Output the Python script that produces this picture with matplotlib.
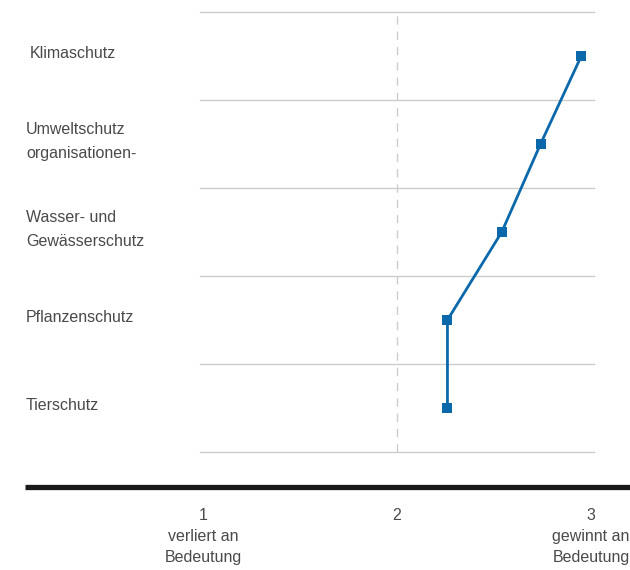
import matplotlib.pyplot as plt

plt.rcParams["font.family"] = ["Liberation Sans", "DejaVu Sans"]

# ── Data ──────────────────────────────────────────────────────────────────────
categories = ["Klimaschutz", "Umweltschutz\norganisationen-", "Wasser- und\nGewässerschutz",
              "Pflanzenschutz", "Tierschutz"]
values = [2.95, 2.74, 2.54, 2.26, 2.26]
tick_values = [1, 2, 3]
tick_labels = ["1\nverliert an\nBedeutung", "2", "3\ngewinnt an\nBedeutung"]

C_LINE = "#0a68ab"
C_GRID = "#cccccc"
C_TEXT = "#4a4a4a"

# ── Figure ────────────────────────────────────────────────────────────────────
fig = plt.figure(figsize=(6.3, 5.7), dpi=100)
ax = fig.add_axes([0, 0, 1, 1])
ax.set_xlim(1 - 203 / 194, 1 + 427 / 194)
ax.set_ylim(-162 / 88, 4 + 56 / 88)
ax.axis("off")

n = len(categories)
ypos = [n - 1 - i for i in range(n)]

# horizontal row separators
x0, x1 = 1 - 3 / 194, 3 + 3 / 194
for y in [i - 0.5 for i in range(n + 1)]:
    ax.plot([x0, x1], [y, y], color=C_GRID, lw=1.0, zorder=1)

# dashed reference at 2
ax.plot([2, 2], [-0.5, n - 0.5], color=C_GRID, lw=1.0, ls=(0, (6, 5)), zorder=1)

# data line
ax.plot(values, ypos, color=C_LINE, lw=2.0, marker="s", markersize=7,
        markeredgewidth=0, zorder=3)

# category labels
for lab, y in zip(categories, ypos):
    xoff = 30 if lab == "Klimaschutz" else 26
    ax.text(1 - (203 - xoff) / 194, y + 0.03, lab, ha="left", va="center",
            fontsize=11.5, color=C_TEXT, linespacing=1.75)

# thick baseline
ax.plot([1 - 178 / 194, 1 + 427 / 194], [-0.898, -0.898], color="#1a1a1a",
        lw=3.8, solid_capstyle="butt", zorder=2)

# x tick labels
for v, lab in zip(tick_values, tick_labels):
    ax.text(v, -1.14, lab, ha="center", va="top", fontsize=11.5,
            color=C_TEXT, linespacing=1.5)

fig.savefig("out.png", dpi=100)
